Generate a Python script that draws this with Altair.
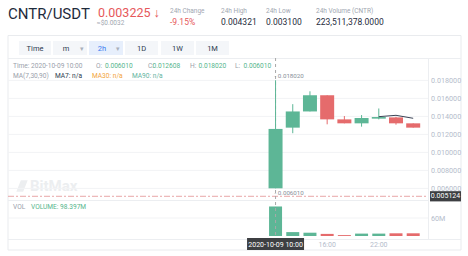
import altair as alt
import pandas as pd

FONT = "Roboto"

# ---------------- data ----------------
times = ["10:00", "12:00", "14:00", "16:00", "18:00", "20:00", "22:00", "00:00", "02:00"]
opens = [0.006010, 0.01275, 0.01455, 0.01635, 0.01367, 0.01323, 0.01375, 0.01389, 0.01323]
closes = [0.012608, 0.01455, 0.01635, 0.01367, 0.01323, 0.01382, 0.01393, 0.01323, 0.01275]
highs = [0.018020, 0.01536, 0.01679, 0.01635, 0.01404, 0.01415, 0.01488, 0.01395, 0.01323]
lows = [0.006010, 0.01213, 0.01455, 0.01312, 0.01323, 0.01286, 0.01367, 0.01308, 0.01275]
volumes = [98.397e6, 13e6, 11e6, 7e6, 3e6, 8e6, 8e6, 9e6, 9e6]
ma_times = ["22:00", "00:00", "02:00"]
ma_values = [0.01397, 0.01412, 0.01379]
price_ticks = [0.018, 0.016, 0.014, 0.012, 0.010, 0.008, 0.006]
price_tick_labels = ["0.018000", "0.016000", "0.014000", "0.012000", "0.010000", "0.008000", "0.006000"]
vol_ticks = [60e6]
vol_tick_labels = ["60M"]
time_ticks = ["16:00", "22:00"]
current_price = 0.005124
current_price_label = "0.005124"
cross_time = "10:00"
cross_label = "2020-10-09 10:00"

header_pair = "CNTR/USDT"
header_price = "0.003225 ↓"
header_usd = "≈$0.0032"
stat_labels = ["24h Change", "24h High", "24h Low", "24h Volume (CNTR)"]
stat_values = ["-9.15%", "0.004321", "0.003100", "223,511,378.0000"]
buttons = ["Time", "m", "2h", "1D", "1W", "1M"]

# ---------------- tables ----------------
idx = list(range(len(times)))
df = pd.DataFrame({
    "idx": idx, "time": times, "open": opens, "close": closes,
    "high": highs, "low": lows, "volume": volumes,
    "dir": ["up" if c >= o else "down" for o, c in zip(opens, closes)],
})
ma_df = pd.DataFrame({"idx": [times.index(t) for t in ma_times], "ma": ma_values})
pt_df = pd.DataFrame({"p": price_ticks, "label": price_tick_labels})
vt_df = pd.DataFrame({"v": vol_ticks, "label": vol_tick_labels})
tt_df = pd.DataFrame({"idx": [times.index(t) for t in time_ticks], "label": time_ticks})
hi_i = highs.index(max(highs))
lo_i = lows.index(min(lows))
hl_df = pd.DataFrame({
    "idx": [hi_i, lo_i], "p": [max(highs), min(lows)],
    "label": ["- " + f"{max(highs):.6f}", "- " + f"{min(lows):.6f}"],
    "kind": ["hi", "lo"],
})
cur_df = pd.DataFrame({"p": [current_price], "label": [current_price_label]})
cross_df = pd.DataFrame({"idx": [times.index(cross_time)], "label": [cross_label]})

GREEN = "#5db696"
RED = "#e56b6c"

xs = alt.Scale(domain=[-15.26, 8.57], range=[8, 428])
ys = alt.Scale(domain=[0.005, 0.019], range=[197.4, 71.4])
vs = alt.Scale(domain=[0, 60e6], range=[236, 218])
cs = alt.Scale(domain=["up", "down"], range=[GREEN, RED])

X = alt.X("idx:Q", scale=xs, axis=None)
ONE = alt.Data(values=[{"k": 0}])


def txt(s, x, y, size=7, color="#9aa1ab", align="left", weight="normal", font=FONT):
    return alt.Chart(ONE).mark_text(
        fontSize=size, color=color, align=align, baseline="middle",
        fontWeight=weight, font=font,
    ).encode(x=alt.value(x), y=alt.value(y), text=alt.value(s))


def rect(x1, x2, y1, y2, fill="#f4f6f9", stroke="#f4f6f9", sw=0.0, fo=1.0, r=0):
    return alt.Chart(ONE).mark_rect(
        fill=fill, stroke=stroke, strokeWidth=sw, fillOpacity=fo, cornerRadius=r
    ).encode(x=alt.value(x1), x2=alt.value(x2), y=alt.value(y1), y2=alt.value(y2))


def hline(x1, x2, y, color="#eceef1", sw=1.0):
    return alt.Chart(ONE).mark_rule(color=color, strokeWidth=sw).encode(
        x=alt.value(x1), x2=alt.value(x2), y=alt.value(y))


def vline(x, y1, y2, color="#eceef1", sw=1.0):
    return alt.Chart(ONE).mark_rule(color=color, strokeWidth=sw).encode(
        x=alt.value(x), y=alt.value(y1), y2=alt.value(y2))


layers = []

# container + chrome
layers.append(rect(8, 461, 35.5, 250, fill="#ffffff", stroke="#e9ebee", sw=1, fo=1))
layers.append(hline(8, 461, 58.5))
layers.append(vline(428.5, 58.5, 239))
layers.append(hline(8, 428.5, 200.5))
layers.append(hline(8, 461, 239.5))

# toolbar buttons
btn_x = [(19, 51), (53, 87), (89, 123), (125, 158), (161, 194), (196, 229)]
for name, (a, b) in zip(buttons, btn_x):
    sel = name == "2h"
    layers.append(rect(a, b, 41, 55, fill="#e7effc" if sel else "#f4f6f9",
                       stroke="#e7effc" if sel else "#f4f6f9"))
    has_arrow = name in ("m", "2h")
    cx = (a + b) / 2 - (4 if has_arrow else 0)
    layers.append(txt(name, cx, 48.5, size=7.5, color="#3a7cf0" if sel else "#2b3a4e", align="center"))
    if has_arrow:
        layers.append(txt("▾", b - 5, 48.5, size=6.5, color="#a9b0bb", align="center"))

# header
layers.append(txt(header_pair, 8, 14, size=15, color="#1e2b3c"))
layers.append(txt(header_price, 98, 13, size=12.5, color="#e6585b"))
layers.append(txt(header_usd, 97, 23, size=6.5, color="#a1a7b1"))
stat_x = [170, 221, 266, 316]
for lab, val, sx in zip(stat_labels, stat_values, stat_x):
    layers.append(txt(lab, sx, 10.5, size=6.5, color="#a1a7b1"))
    layers.append(txt(val, sx, 22, size=8.5, color="#e6585b" if val.startswith("-") else "#1e2b3c"))

# info lines
VALG = "#55b58c"
GRAY = "#9aa1ab"
layers.append(txt("Time: 2020-10-09 10:00", 13, 65.5, size=6.6, color=GRAY))
for k, v, kx, vx in [("O:", opens[0], 96, 105), ("C:", closes[0], 148, 152.5),
                     ("H:", highs[0], 190, 198.5), ("L:", lows[0], 235, 243.5)]:
    layers.append(txt(k, kx, 65.5, size=6.6, color=GRAY))
    layers.append(txt(f"{v:.6f}", vx, 65.5, size=6.6, color=VALG))
layers.append(txt("MA(7,30,90)", 13, 76, size=6.6, color=GRAY))
layers.append(txt("MA7: n/a", 55, 76, size=6.6, color="#2b3a4e"))
layers.append(txt("MA30: n/a", 92, 76, size=6.6, color="#f2a33a"))
layers.append(txt("MA90: n/a", 132, 76, size=6.6, color="#5fb3a0"))

# watermark
layers.append(alt.Chart(ONE).mark_point(
    shape="M-0.2,-1L1,-1L0.2,1L-1,1Z", filled=True, size=130, color="#eceef0", opacity=1
).encode(x=alt.value(22), y=alt.value(186)))
layers.append(txt("BitMax", 30, 186, size=15, color="#eceef0", weight="bold"))

# gridlines
layers.append(alt.Chart(pt_df).mark_rule(color="#f2f3f5", strokeWidth=1).encode(
    y=alt.Y("p:Q", scale=ys, axis=None), x=alt.value(8), x2=alt.value(428)))
layers.append(alt.Chart(vt_df).mark_rule(color="#f2f3f5", strokeWidth=1).encode(
    y=alt.Y("v:Q", scale=vs, axis=None), x=alt.value(8), x2=alt.value(428)))

# price axis labels
layers.append(alt.Chart(pt_df).mark_text(
    align="left", baseline="middle", fontSize=7.2, color="#b4bccb", font=FONT, dy=1
).encode(y=alt.Y("p:Q", scale=ys, axis=None), x=alt.value(431), text="label:N"))
layers.append(alt.Chart(vt_df).mark_text(
    align="left", baseline="middle", fontSize=7.2, color="#b4bccb", font=FONT, dy=1
).encode(y=alt.Y("v:Q", scale=vs, axis=None), x=alt.value(431), text="label:N"))

# volume bars
layers.append(alt.Chart(df).mark_bar(size=13).encode(
    x=X, y=alt.Y("volume:Q", scale=vs, axis=None),
    color=alt.Color("dir:N", scale=cs, legend=None)))

# VOL label
layers.append(txt("VOL", 13, 207, size=6.6, color=GRAY))
layers.append(txt("VOLUME: 98.397M", 31, 207, size=6.6, color=VALG))

# current price line
layers.append(alt.Chart(cur_df).mark_rule(color="#e9a6a8", strokeWidth=1, strokeDash=[6, 2, 2, 2]).encode(
    y=alt.Y("p:Q", scale=ys, axis=None), x=alt.value(8), x2=alt.value(428)))

# crosshair
layers.append(alt.Chart(cross_df).mark_rule(color="#a8a8a8", strokeWidth=1, strokeDash=[3, 3]).encode(
    x=X, y=alt.value(58), y2=alt.value(239)))

# candles: wicks + bodies
layers.append(alt.Chart(df).mark_rule(strokeWidth=1).encode(
    x=X, y=alt.Y("low:Q", scale=ys, axis=None), y2="high:Q",
    color=alt.Color("dir:N", scale=cs, legend=None)))
layers.append(alt.Chart(df).mark_bar(size=14).encode(
    x=X, y=alt.Y("open:Q", scale=ys, axis=None), y2="close:Q",
    color=alt.Color("dir:N", scale=cs, legend=None)))

# MA line
layers.append(alt.Chart(ma_df).mark_line(color="#3b4355", strokeWidth=1).encode(
    x=X, y=alt.Y("ma:Q", scale=ys, axis=None)))

# high / low annotations
layers.append(alt.Chart(hl_df).transform_filter(alt.datum.kind == "hi").mark_text(
    align="left", baseline="middle", fontSize=6.2, color="#888f99", font=FONT, dx=-1, dy=-4.5
).encode(x=X, y=alt.Y("p:Q", scale=ys, axis=None), text="label:N"))
layers.append(alt.Chart(hl_df).transform_filter(alt.datum.kind == "lo").mark_text(
    align="left", baseline="middle", fontSize=6.2, color="#888f99", font=FONT, dx=-1, dy=4.5
).encode(x=X, y=alt.Y("p:Q", scale=ys, axis=None), text="label:N"))

# current price tag
layers.append(alt.Chart(cur_df).mark_point(
    shape="M-1,-0.33L1,-0.33L1,0.33L-1,0.33Z", filled=True, size=961, color="#3d3f42", opacity=1
).encode(y=alt.Y("p:Q", scale=ys, axis=None), x=alt.value(445.5)))
layers.append(alt.Chart(cur_df).mark_text(
    align="center", baseline="middle", fontSize=7, color="#ffffff", font=FONT
).encode(y=alt.Y("p:Q", scale=ys, axis=None), x=alt.value(445.5), text="label:N"))

# time axis labels
layers.append(alt.Chart(tt_df).mark_text(
    align="center", baseline="middle", fontSize=7, color="#b4bccb", font=FONT
).encode(x=X, y=alt.value(244.5), text="label:N"))

# crosshair time tag
layers.append(alt.Chart(cross_df).mark_point(
    shape="M-1,-0.21L1,-0.21L1,0.21L-1,0.21Z", filled=True, size=3249, color="#3d3f42", opacity=1
).encode(x=X, y=alt.value(244)))
layers.append(alt.Chart(cross_df).mark_text(
    align="center", baseline="middle", fontSize=7, color="#ffffff", font=FONT
).encode(x=X, y=alt.value(244.5), text="label:N"))

chart = alt.layer(*layers).resolve_scale(y="independent").properties(
    width=468, height=256,
    autosize=alt.AutoSizeParams(type="none"),
    padding=0,
    background="#ffffff",
).configure_view(strokeWidth=0)

chart.save("out.html", embed_options={"renderer": "svg", "actions": False})
